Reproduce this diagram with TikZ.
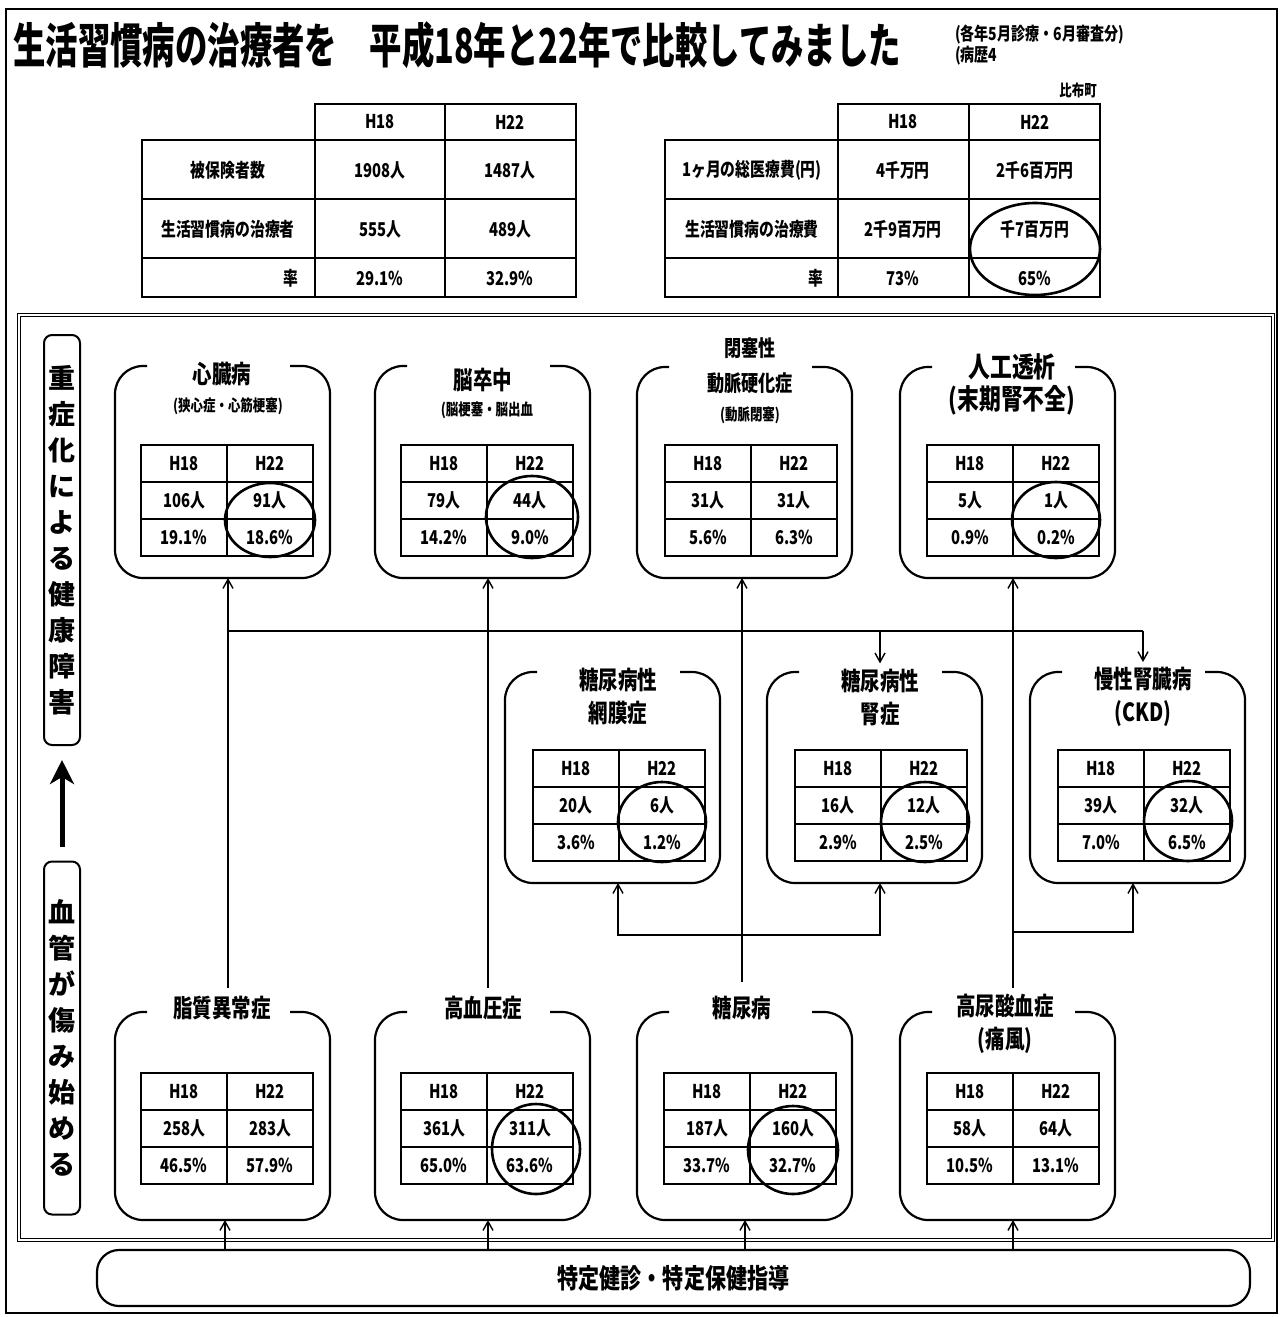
\documentclass[tikz,border=0pt]{standalone}
\usepackage{fontspec}
\setmainfont{Noto Sans CJK JP}[FakeStretch=0.78]
\newfontfamily\jpw{Noto Sans CJK JP}
\newfontfamily\jpt{Noto Sans CJK JP}[FakeStretch=0.675]
\usetikzlibrary{arrows.meta,calc}
\tikzset{
  tab/.style={line width=1.6pt},
  boxl/.style={line width=2.2pt, rounded corners=28pt},
  circ/.style={line width=2.6pt},
  arr/.style={line width=1.4pt, -{Straight Barb[length=9pt,width=10pt]}},
  arrb/.style={line width=1.4pt, {Straight Barb[length=9pt,width=10pt]}-{Straight Barb[length=9pt,width=10pt]}},
  ln/.style={line width=1.4pt},
  area/.style={inner sep=0pt, outer sep=0pt, draw=none},
  ttl/.style={font=\fontsize{25}{33}\selectfont\bfseries, align=center, inner sep=1pt},
  subt/.style={font=\fontsize{16}{20}\selectfont\bfseries, inner sep=1pt},
  cell/.style={font=\fontsize{19}{22}\selectfont\bfseries, inner sep=1pt},
  big/.style={font=\fontsize{19}{22}\selectfont\bfseries, inner sep=1pt},
  side/.style={draw, line width=2pt, rounded corners=8pt, minimum width=36pt, inner sep=0pt,
    font=\jpw\bfseries\fontsize{27}{36}\selectfont, align=center},
}
\newcommand\dzbox[4]{%
  \node[area, minimum width=215, minimum height={#4-#3}] (#1) at ({#2+107.5},{(#3+#4)/2}) {};
  \draw[boxl] ({#2+32},#3) -- (#2,#3) -- (#2,#4) -- ({#2+215},#4) -- ({#2+215},#3) -- ({#2+175},#3);
}
\newcommand\dztab[7]{%
  \draw[tab] (#2,#3) rectangle ({#2+172},{#3+111});
  \draw[tab] ({#2+86},#3) -- ({#2+86},{#3+111});
  \draw[tab] (#2,{#3+37}) -- ({#2+172},{#3+37});
  \draw[tab] (#2,{#3+74}) -- ({#2+172},{#3+74});
  \node[cell] (#1a) at ({#2+43},{#3+18.5}) {H18};
  \node[cell] (#1b) at ({#2+129},{#3+18.5}) {H22};
  \node[cell] (#1c) at ({#2+43},{#3+55.5}) {#4};
  \node[cell] (#1d) at ({#2+129},{#3+55.5}) {#5};
  \node[cell] (#1e) at ({#2+43},{#3+92.5}) {#6};
  \node[cell] (#1f) at ({#2+129},{#3+92.5}) {#7};
}
\begin{document}
\begin{tikzpicture}[x=1pt,y=-1pt]
\useasboundingbox (0,0) rectangle (1282,1317);
\fill[white] (0,0) rectangle (1282,1317);
% frames
\draw[line width=2pt] (6,9) rectangle (1277,1313);
\draw[line width=1pt, double, double distance=2.5pt] (19,315) rectangle (1273,1240);

% title
\node[anchor=west, inner sep=0pt, font=\jpt\fontsize{48}{52}\selectfont\bfseries] (title) at (13,45)
  {生活習慣病の治療者を　平成18年と22年で比較してみました};
\node[anchor=west, inner sep=0pt, font=\fontsize{18}{20}\selectfont\bfseries] (note1) at (955,35) {(各年5月診療・6月審査分)};
\node[anchor=west, inner sep=0pt, font=\fontsize{18}{20}\selectfont\bfseries] (note2) at (955,56) {(病歴4};
\node[anchor=east, inner sep=0pt, font=\fontsize{16}{18}\selectfont\bfseries] (town) at (1097,90) {比布町};

% left top table
\draw[tab] (315,104) rectangle (576,140);
\draw[tab] (445,104) -- (445,140);
\draw[tab] (142,140) rectangle (576,297);
\draw[tab] (315,140) -- (315,297);
\draw[tab] (445,140) -- (445,297);
\draw[tab] (142,199) -- (576,199);
\draw[tab] (142,258) -- (576,258);
\node[big] (l00) at (380,122) {H18};
\node[big] (l01) at (510,122) {H22};
\node[big] (l10) at (228,170) {被保険者数};
\node[big] (l11) at (380,170) {1908人};
\node[big] (l12) at (510,170) {1487人};
\node[big] (l20) at (228,229) {生活習慣病の治療者};
\node[big] (l21) at (380,229) {555人};
\node[big] (l22) at (510,229) {489人};
\node[big, anchor=east] (l30) at (300,278) {率};
\node[big] (l31) at (380,278) {29.1\%};
\node[big] (l32) at (510,278) {32.9\%};

% right top table
\draw[tab] (838,104) rectangle (1100,140);
\draw[tab] (969,104) -- (969,140);
\draw[tab] (665,140) rectangle (1100,297);
\draw[tab] (838,140) -- (838,297);
\draw[tab] (969,140) -- (969,297);
\draw[tab] (665,199) -- (1100,199);
\draw[tab] (665,258) -- (1100,258);
\node[big] (r00) at (903,122) {H18};
\node[big] (r01) at (1035,122) {H22};
\node[big] (r10) at (752,170) {1ヶ月の総医療費(円)};
\node[big] (r11) at (903,170) {4千万円};
\node[big] (r12) at (1035,170) {2千6百万円};
\node[big] (r20) at (752,229) {生活習慣病の治療費};
\node[big] (r21) at (903,229) {2千9百万円};
\node[big] (r22) at (1035,229) {千7百万円};
\node[big, anchor=east] (r30) at (825,278) {率};
\node[big] (r31) at (903,278) {73\%};
\node[big] (r32) at (1035,278) {65\%};
\draw[circ] (1035,249) ellipse [x radius=65, y radius=46];

% side labels
\node[side, minimum height=410pt] (sideA) at (62,540) {重\\症\\化\\に\\よ\\る\\健\\康\\障\\害};
\node[side, minimum height=353pt] (sideB) at (62,1038) {血\\管\\が\\傷\\み\\始\\め\\る};
\draw[line width=5pt, -{Stealth[length=24pt,width=24pt,inset=7pt]}, shorten <=14pt, shorten >=14pt] (sideB.north) -- (sideA.south);

% top row boxes
\dzbox{A}{115}{366}{578}
\dzbox{B}{375}{366}{578}
\dzbox{C}{637}{367}{578}
\dzbox{D}{900}{367}{578}
\node[ttl] (tA) at (222,374) {心臓病};
\node[subt] (sA) at (228,406) {(狭心症・心筋梗塞)};
\node[ttl] (tB) at (483,380) {脳卒中};
\node[subt] (sB) at (487,410) {(脳梗塞・脳出血};
\node[ttl, font=\fontsize{22}{26}\selectfont\bfseries] (tC1) at (750,348) {閉塞性};
\node[ttl, font=\fontsize{22}{26}\selectfont\bfseries] (tC2) at (750,383) {動脈硬化症};
\node[subt] (sC) at (750,415) {(動脈閉塞)};
\node[ttl, font=\fontsize{28}{33}\selectfont\bfseries] (tD1) at (1012,367) {人工透析};
\node[ttl, font=\fontsize{28}{33}\selectfont\bfseries] (tD2) at (1012,400) {(末期腎不全)};
\dztab{ta}{141}{445}{106人}{91人}{19.1\%}{18.6\%}
\dztab{tb}{401}{445}{79人}{44人}{14.2\%}{9.0\%}
\dztab{tc}{665}{445}{31人}{31人}{5.6\%}{6.3\%}
\dztab{td}{927}{445}{5人}{1人}{0.9\%}{0.2\%}
\draw[circ] (270,520) ellipse [x radius=45, y radius=37];
\draw[circ] (532,517) ellipse [x radius=46, y radius=41];
\draw[circ] (1056,520) ellipse [x radius=44, y radius=38];

% middle row boxes
\dzbox{E}{505}{672}{883}
\dzbox{F}{767}{672}{883}
\dzbox{G}{1030}{672}{883}
\node[ttl] (tE) at (618,697) {糖尿病性\\網膜症};
\node[ttl] (tF) at (880,697) {糖尿病性\\腎症};
\node[ttl] (tG) at (1143,697) {慢性腎臓病\\(CKD)};
\dztab{te}{533}{750}{20人}{6人}{3.6\%}{1.2\%}
\dztab{tf}{795}{750}{16人}{12人}{2.9\%}{2.5\%}
\dztab{tg}{1058}{750}{39人}{32人}{7.0\%}{6.5\%}
\draw[circ] (662,822) ellipse [x radius=44, y radius=40];
\draw[circ] (925,822) ellipse [x radius=44, y radius=40];
\draw[circ] (1188,821) ellipse [x radius=44, y radius=40];

% bottom row boxes
\dzbox{H}{115}{1012}{1220}
\dzbox{I}{375}{1012}{1220}
\dzbox{J}{637}{1012}{1220}
\dzbox{K}{900}{1012}{1220}
\node[ttl] (tH) at (222,1008) {脂質異常症};
\node[ttl] (tI) at (483,1008) {高血圧症};
\node[ttl] (tJ) at (742,1008) {糖尿病};
\node[ttl] (tK) at (1005,1024) {高尿酸血症\\(痛風)};
\dztab{th}{141}{1073}{258人}{283人}{46.5\%}{57.9\%}
\dztab{ti}{401}{1073}{361人}{311人}{65.0\%}{63.6\%}
\dztab{tj}{664}{1073}{187人}{160人}{33.7\%}{32.7\%}
\dztab{tk}{927}{1073}{58人}{64人}{10.5\%}{13.1\%}
\draw[circ] (536,1149) ellipse [x radius=44, y radius=45];
\draw[circ] (793,1150) ellipse [x radius=45, y radius=44];

% bottom box
\node[draw, line width=2.2pt, rounded corners=22pt, minimum width=1153pt, minimum height=56pt,
  font=\fontsize{27}{30}\selectfont\bfseries] (kenshin) at (673.5,1278) {特定健診・特定保健指導};

% connectors
\coordinate (p1) at (228,988);
\coordinate (p2) at (488,988);
\coordinate (p3) at (742,982);
\coordinate (p4) at (1013,988);
\draw[arr] (p1) -- (p1 |- A.south);
\draw[arr] (p2) -- (p2 |- B.south);
\draw[arr] (p3) -- (p3 |- C.south);
\draw[arr] (p4) -- (p4 |- D.south);
\coordinate (j1) at (228,631);
\coordinate (j2) at (880,631);
\coordinate (j3) at (1143,631);
\draw[ln] (j1) -- (j3);
\draw[arr] (j2) -- ($(j2 |- tF.north)+(0,-4)$);
\draw[arr] (j3) -- ($(j3 |- tG.north)+(0,-4)$);
\coordinate (m1) at (618,935);
\coordinate (m2) at (880,935);
\draw[arrb] (m1 |- E.south) -- (m1) -- (m2) -- (m2 |- F.south);
\coordinate (n1) at (1013,932);
\coordinate (n2) at (1133,932);
\draw[arr] (n1) -- (n2) -- (n2 |- G.south);
\coordinate (q1) at (225,1250);
\coordinate (q2) at (488,1250);
\coordinate (q3) at (745,1250);
\coordinate (q4) at (1013,1250);
\draw[arr] (q1) -- (q1 |- H.south);
\draw[arr] (q2) -- (q2 |- I.south);
\draw[arr] (q3) -- (q3 |- J.south);
\draw[arr] (q4) -- (q4 |- K.south);
\end{tikzpicture}
\end{document}
